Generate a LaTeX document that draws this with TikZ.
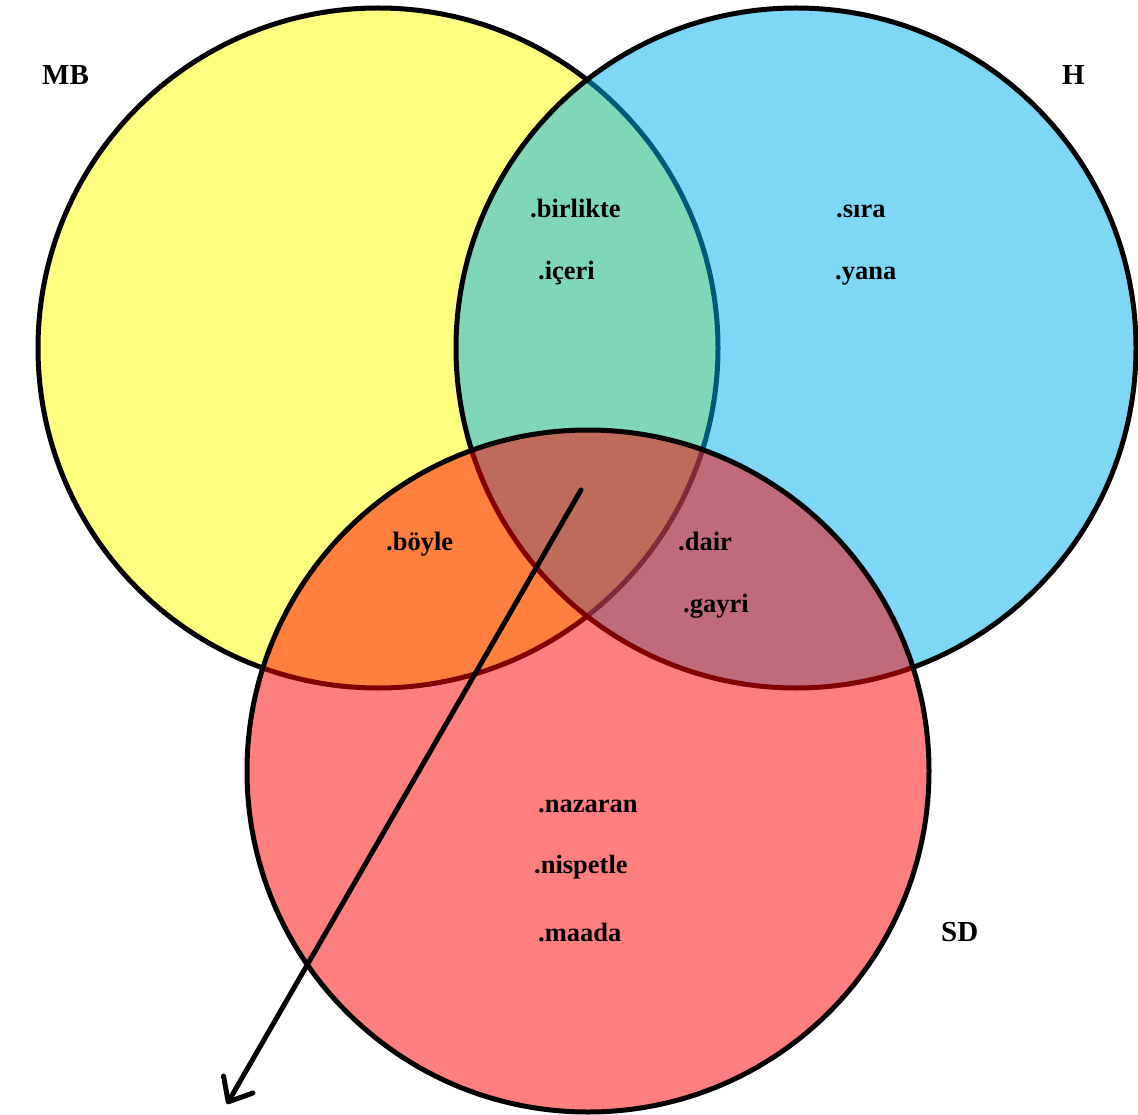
\documentclass[tikz,border=0pt]{standalone}
\usepackage{fontspec}
\setmainfont{Liberation Serif}
\usetikzlibrary{arrows.meta}
\definecolor{setyellow}{HTML}{FFFF00}
\definecolor{setblue}{HTML}{00B0F0}
\definecolor{setred}{HTML}{FF0000}
\tikzset{
  setcircle/.style={circle, inner sep=0pt, minimum size=680pt, draw=black, line width=5pt, fill opacity=0.5},
  word/.style={anchor=base west, inner sep=0pt, font=\fontsize{26.5}{30}\selectfont\bfseries},
  setname/.style={anchor=base west, inner sep=0pt, font=\fontsize{29}{33}\selectfont\bfseries},
  pointer/.style={line width=5pt, line cap=round, -{Straight Barb[length=20pt,width=34pt,line width=5pt,round]}}
}
\begin{document}
\begin{tikzpicture}[x=1pt,y=-1pt]
  \fill[white] (0,0) rectangle (1138,1115);
  \useasboundingbox (0,0) rectangle (1138,1115);

  % the three sets, later ones tint the earlier ones
  \node[setcircle, fill=setyellow] (mb) at (378,348) {};
  \node[setcircle, fill=setblue]   (h)  at (796,348) {};
  \node[setcircle, fill=setred, minimum size=682pt] (sd) at (588,771) {};

  % set names
  \node[setname] (lmb) at (42,85)   {MB};
  \node[setname] (lh)  at (1062,85) {H};
  \node[setname] (lsd) at (941,941) {SD};

  % MB and H
  \node[word] (w1) at (530,218) {.birlikte};
  \node[word] (w2) at (538,280) {.içeri};
  % H only
  \node[word] (w3) at (836,218) {.sıra};
  \node[word] (w4) at (835,280) {.yana};
  % MB and SD
  \node[word] (w5) at (386,550) {.böyle};
  % H and SD
  \node[word] (w6) at (678,550) {.dair};
  \node[word] (w7) at (683,612) {.gayri};
  % SD only
  \node[word] (w8)  at (538,812) {.nazaran};
  \node[word] (w9)  at (534,873) {.nispetle};
  \node[word] (w10) at (538,941) {.maada};

  % pointer out of the common part
  \coordinate (pstart) at (581,490);
  \coordinate (pend) at (227,1104);
  \draw[pointer] (pstart) -- (pend);
\end{tikzpicture}
\end{document}
